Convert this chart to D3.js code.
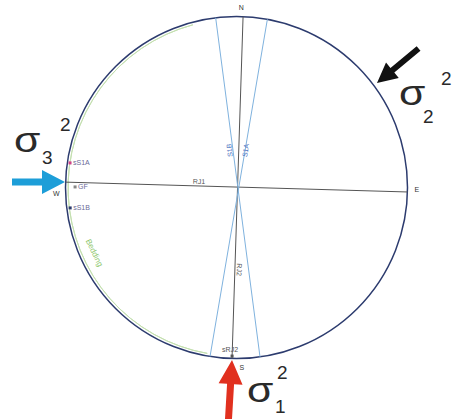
<!DOCTYPE html>
<meta charset="utf-8">
<script src="https://d3js.org/d3.v7.min.js"></script>
<style>
  body { margin: 0; background: #fff; }
  text { font-family: "Liberation Sans", Arial, sans-serif; }
</style>
<div id="net"></div>
<script>

// great circles drawn as chords: azimuth (deg) of both ends on the primitive
var planeNames = ["RJ1", "RJ2", "S1A", "S1B"];
var planeStart = [271.8, 2.2, 10.4, 353.0];
var planeEnd   = [91.5, 181.5, 188.9, 172.1];

// poles / points: azimuth and distance from centre (fraction of radius)
var poleNames = ["sS1A", "GF", "sS1B", "sRJ2"];
var poleAz    = [278.4, 270.2, 263.0, 181.5];
var poleDist  = [0.984, 0.944, 0.980, 0.986];

// direction labels
var dirNames = ["N", "E", "S", "W"];
var dirAz    = [1.5, 90.5, 178.3, 268.2];

// principal stress arrows (azimuth where they hit the net)
var stressNames = ["σ1", "σ2", "σ3"];
var stressSub   = ["1", "2", "3"];
var stressAz    = [181.0, 53.0, 272.0];

var width = 454, height = 419;
var cx = 236.5, cy = 187.5, R = 171;

var svg = d3.select("#net").append("svg")
  .attr("width", width).attr("height", height);

var x = d3.scaleLinear().domain([-1, 1]).range([cx - R, cx + R]);
var y = d3.scaleLinear().domain([-1, 1]).range([cy + R, cy - R]);

var rad = Math.PI / 180;
function px(az, r) { return x(r * Math.sin(az * rad)); }
function py(az, r) { return y(r * Math.cos(az * rad)); }

// primitive circle
svg.append("circle")
  .attr("cx", x(0)).attr("cy", y(0)).attr("r", x(1) - x(0))
  .attr("fill", "none").attr("stroke", "#2c3b6e").attr("stroke-width", 1.5);

// bedding, close to the primitive on the west side
var arc = d3.arc()
  .innerRadius((x(1) - x(0)) * 0.985).outerRadius((x(1) - x(0)) * 0.985)
  .startAngle(190 * rad).endAngle(345 * rad);
svg.append("path")
  .attr("transform", "translate(" + x(0) + "," + y(0) + ")")
  .attr("d", arc())
  .attr("fill", "none").attr("stroke", "#c4e0b0").attr("stroke-width", 1);

// planes
var planeColor = ["#555", "#555", "#7fb2de", "#7fb2de"];
planeNames.forEach(function(n, i) {
  svg.append("line")
    .attr("x1", px(planeStart[i], 1)).attr("y1", py(planeStart[i], 1))
    .attr("x2", px(planeEnd[i], 1)).attr("y2", py(planeEnd[i], 1))
    .attr("stroke", planeColor[i]).attr("stroke-width", 1);
});

// labels along planes
function along(i, t) {
  var x1 = px(planeStart[i], 1), y1 = py(planeStart[i], 1);
  var x2 = px(planeEnd[i], 1), y2 = py(planeEnd[i], 1);
  return { x: x1 + (x2 - x1) * t, y: y1 + (y2 - y1) * t,
           a: Math.atan2(y2 - y1, x2 - x1) / rad };
}
var lab = [
  { i: 0, t: 0.39, dx: 0, dy: -2, rot: 0, c: "#555" },
  { i: 1, t: 0.74, dx: 2, dy: 0, rot: 0, c: "#555" },
  { i: 2, t: 0.39, dx: 3, dy: 0, rot: 180, c: "#4a70c0" },
  { i: 3, t: 0.39, dx: -1, dy: 0, rot: 180, c: "#4a70c0" }
];
lab.forEach(function(l) {
  var p = along(l.i, l.t);
  svg.append("text")
    .attr("transform", "translate(" + (p.x + l.dx) + "," + (p.y + l.dy) + ") rotate(" + (p.a + l.rot) + ")")
    .attr("text-anchor", "middle")
    .attr("font-size", 7).attr("fill", l.c)
    .text(planeNames[l.i]);
});

// poles
var poleColor = ["#d0408a", "#888", "#2c3b6e", "#555"];
poleNames.forEach(function(n, i) {
  var X = px(poleAz[i], poleDist[i]), Y = py(poleAz[i], poleDist[i]);
  svg.append("rect")
    .attr("x", X - 1.5).attr("y", Y - 1.5).attr("width", 3).attr("height", 3)
    .attr("fill", poleColor[i]);
  var t = svg.append("text").attr("font-size", 7).attr("fill", "#6a6a98").text(n);
  if (i === 3) t.attr("x", X - 2).attr("y", Y - 4).attr("text-anchor", "middle").attr("fill", "#555");
  else t.attr("x", X + 3).attr("y", Y + 2.5);
});

// bedding label
svg.append("text")
  .attr("transform", "translate(92,254) rotate(64)")
  .attr("text-anchor", "middle").attr("font-size", 8).attr("fill", "#8cc66a")
  .text("Bedding");

// direction letters
dirNames.forEach(function(n, i) {
  svg.append("text")
    .attr("x", px(dirAz[i], 1.055)).attr("y", py(dirAz[i], 1.055) + 2.5)
    .attr("text-anchor", "middle").attr("font-size", 7).attr("fill", "#333")
    .text(n);
});

// stress arrows: tip, direction, shape
var arrowStyle = [
  { tip: [232, 360], dir: [3.5, -59], L: 64, w: 7, hl: 24, hw: 24, c: "#e1301f",
    lx: 247, ly: 402, sx: 275, sy: 413, px: 277, py: 379 },
  { tip: [377, 83], dir: [-41, 34], L: 54, w: 6, hl: 20, hw: 20, c: "#111",
    lx: 399, ly: 105, sx: 423, sy: 123, px: 441, py: 85 },
  { tip: [65, 182], dir: [1, 0], L: 53, w: 7, hl: 23, hw: 24, c: "#1d9ed8",
    lx: 14, ly: 152, sx: 42, sy: 164, px: 60, py: 131 }
];
stressNames.forEach(function(n, i) {
  var s = arrowStyle[i];
  var ang = Math.atan2(s.dir[1], s.dir[0]) / rad;
  var pts = [[0, 0], [-s.hl, -s.hw / 2], [-s.hl, -s.w / 2], [-s.L, -s.w / 2],
             [-s.L, s.w / 2], [-s.hl, s.w / 2], [-s.hl, s.hw / 2]];
  svg.append("path")
    .attr("transform", "translate(" + s.tip[0] + "," + s.tip[1] + ") rotate(" + ang + ")")
    .attr("d", d3.line()(pts) + "Z")
    .attr("fill", s.c);

  svg.append("text")
    .attr("transform", "translate(" + s.lx + "," + s.ly + ") scale(1.22,1)")
    .attr("font-size", 35).attr("fill", "#2a2a2a").text("σ");
  svg.append("text").attr("x", s.sx).attr("y", s.sy)
    .attr("font-size", 19).attr("fill", "#2a2a2a").text(stressSub[i]);
  svg.append("text").attr("x", s.px).attr("y", s.py)
    .attr("font-size", 19).attr("fill", "#2a2a2a").text("2");
});

</script>
